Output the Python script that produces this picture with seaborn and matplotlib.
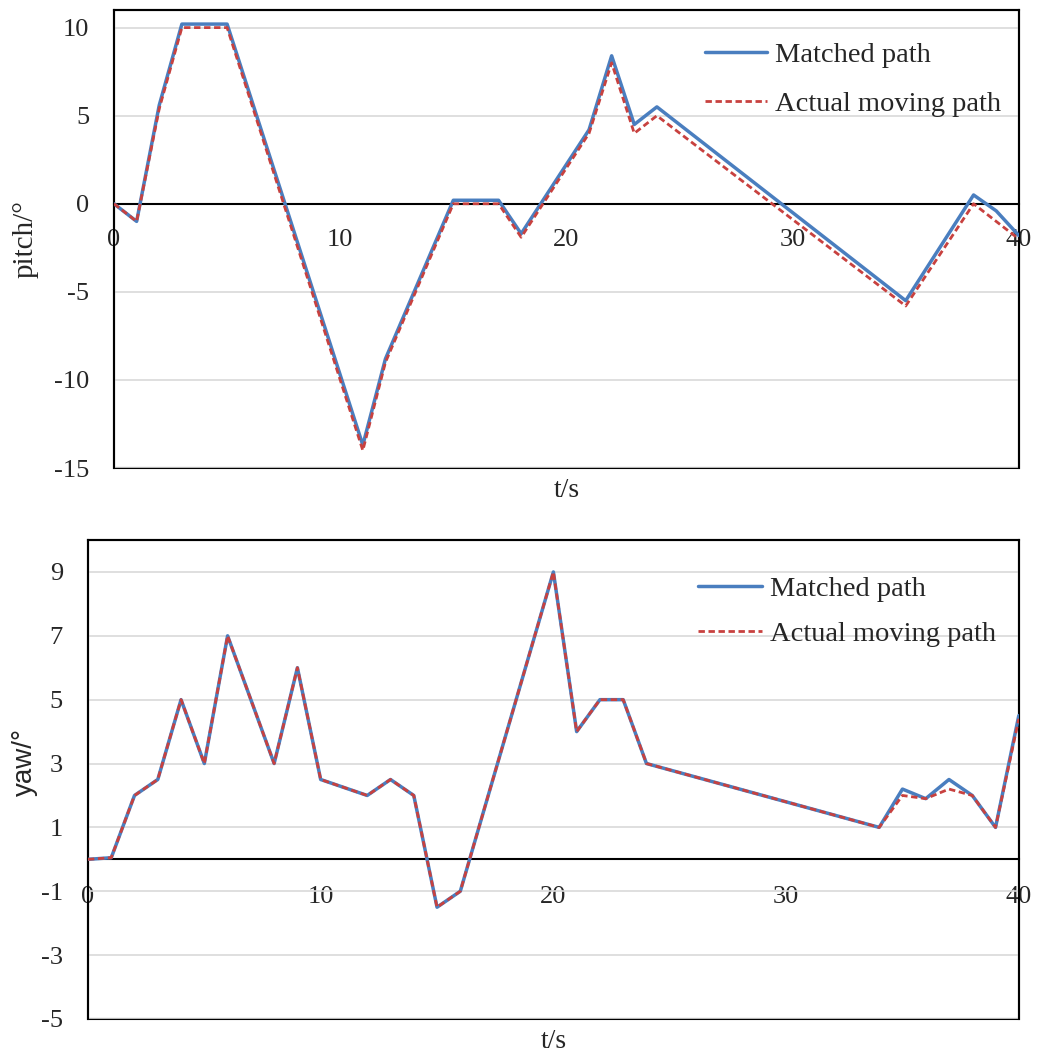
import numpy as np
import pandas as pd
import matplotlib
matplotlib.use('Agg')
import matplotlib.pyplot as plt
import seaborn as sns

# pitch data (t in s, angle in degrees)
pitch_t = [0, 1, 2, 3, 5, 11, 12, 15, 17, 18, 21, 22, 23, 24, 35, 38, 39, 40]
pitch_matched = [0, -1, 5.6, 10.2, 10.2, -13.7, -8.8, 0.2, 0.2, -1.7, 4.2, 8.4, 4.5, 5.5, -5.5, 0.5, -0.4, -1.8]
pitch_actual = [0, -1, 5.4, 10, 10, -14, -9, 0, 0, -1.9, 4.0, 8.0, 4.0, 5.0, -5.8, 0, -1, -2]

# yaw data
yaw_t = [0, 1, 2, 3, 4, 5, 6, 8, 9, 10, 12, 13, 14, 15, 16, 20, 21, 22, 23, 24, 34, 35, 36, 37, 38, 39, 40]
yaw_matched = [0, 0.05, 2, 2.5, 5, 3, 7, 3, 6, 2.5, 2, 2.5, 2, -1.5, -1, 9, 4, 5, 5, 3, 1, 2.2, 1.9, 2.5, 2, 1, 4.5]
yaw_actual = [0, 0.05, 2, 2.5, 5, 3, 7, 3, 6, 2.5, 2, 2.5, 2, -1.5, -1, 9, 4, 5, 5, 3, 1, 2.0, 1.9, 2.2, 2, 1, 4.4]

x_ticks = [0, 10, 20, 30, 40]
pitch_ticks = [-15, -10, -5, 0, 5, 10]
yaw_ticks = [-5, -3, -1, 1, 3, 5, 7, 9]
labels = ['Matched path', 'Actual moving path']

blue = '#4a7ebf'
red = '#c8413f'

sns.set_style('white')
plt.rcParams['font.family'] = ['Liberation Serif', 'DejaVu Serif']
plt.rcParams['font.size'] = 19
plt.rcParams['axes.unicode_minus'] = False

fig = plt.figure(figsize=(10.46, 10.63), dpi=100)
ax1 = fig.add_axes([0.109, 0.5597, 0.865, 0.4309])
ax2 = fig.add_axes([0.0841, 0.0414, 0.8899, 0.4506])


def draw_panel(ax, t, matched, actual, yticks, ylim, xpad):
    df = pd.DataFrame({'t': t, 'matched': matched, 'actual': actual})
    sns.lineplot(data=df, x='t', y='matched', ax=ax, color=blue, linewidth=2.5,
                 label=labels[0], zorder=3)
    sns.lineplot(data=df, x='t', y='actual', ax=ax, color=red, linewidth=2.0,
                 linestyle=(0, (2.3, 1.3)), label=labels[1], zorder=4)
    ax.set_xlim(0, 40)
    ax.set_ylim(*ylim)
    ax.set_xticks(x_ticks)
    ax.set_yticks(yticks)
    ax.grid(axis='y', color='#d9d9d9', linewidth=1.2, zorder=0)
    ax.grid(axis='x', visible=False)
    ax.spines['bottom'].set_position(('data', 0))
    for s in ['bottom', 'left', 'top', 'right']:
        ax.spines[s].set_color('black')
        ax.spines[s].set_linewidth(1.5)
    ax.patch.set_edgecolor('black')
    ax.patch.set_linewidth(1.5)
    ax.tick_params(axis='x', direction='in', length=6.5, width=1.2, color='black',
                   labelsize=19, pad=xpad)
    ax.tick_params(axis='y', direction='in', length=6.5, width=1.2, color='black',
                   labelsize=19, pad=18)
    ax.set_xlabel('t/s', fontsize=20, va='top')


draw_panel(ax1, pitch_t, pitch_matched, pitch_actual, pitch_ticks, (-15, 11), 18.5)
draw_panel(ax2, yaw_t, yaw_matched, yaw_actual, yaw_ticks, (-5, 10), 19.5)

ax1.set_ylabel('pitch/°', fontsize=21)
ax1.yaxis.set_label_coords(-0.083, 0.5)
ax1.xaxis.set_label_coords(0.5, -0.022)

ax2.set_ylabel('yaw/°', fontsize=20, family=['Liberation Sans', 'DejaVu Sans'])
ax2.yaxis.set_label_coords(-0.054, 0.537)
ax2.xaxis.set_label_coords(0.5, -0.021)

ax1.legend(loc='upper left', bbox_to_anchor=(0.653, 0.929), frameon=False,
           fontsize=20.5, handlelength=2.2, handletextpad=0.25, labelspacing=0.78,
           borderpad=0, borderaxespad=0)
ax2.legend(loc='upper left', bbox_to_anchor=(0.655, 0.925), frameon=False,
           fontsize=20.5, handlelength=2.25, handletextpad=0.3, labelspacing=0.66,
           borderpad=0, borderaxespad=0)

fig.savefig('out.png', dpi=100)
